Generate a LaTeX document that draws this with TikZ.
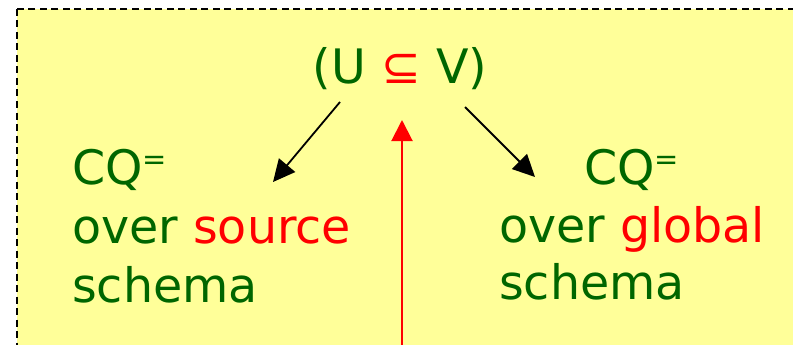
\documentclass[tikz,border=0pt]{standalone}
\usepackage{fontspec}
\setmainfont{DejaVu Sans}
\usetikzlibrary{arrows.meta}
\definecolor{darkgreen}{RGB}{0,102,0}
\definecolor{pureRed}{RGB}{255,0,0}
\definecolor{paleyellow}{RGB}{255,255,153}
\newcommand{\eqsup}{\raisebox{15pt}{\fontsize{29}{29}\selectfont =}}

\begin{document}
\begin{tikzpicture}[x=1pt, y=-1pt,
    every node/.style={inner sep=0pt, text=darkgreen, font=\fontsize{47.5}{57}\selectfont},
    textline/.style={anchor=base west},
    pointer/.style={line width=1.8pt, -{Triangle[length=22pt,width=21pt]}},
    redpointer/.style={line width=2pt, draw=pureRed, -{Triangle[length=21pt,width=21pt]}, color=pureRed}]
    \useasboundingbox (0,0) rectangle (793,345);
    \clip (0,0) rectangle (793,345);
    % Background
    \draw[fill=paleyellow, line width=1.8pt, dash pattern=on 7pt off 4.5pt] (17,9) rectangle (860,400);

    % Inclusion
    \node[anchor=base] (incl) at (400,84) {(U \textcolor{pureRed}{⊆} V)};

    % Left block
    \node[textline] (src1) at (72,184) {CQ\eqsup};
    \node[textline] (src2) at (72,243) {over \textcolor{pureRed}{source}};
    \node[textline] (src3) at (72,302) {schema};

    % Right block
    \node[textline] (glb1) at (584,184) {CQ\eqsup};
    \node[textline] (glb2) at (499,242) {over \textcolor{pureRed}{global}};
    \node[textline] (glb3) at (499,299) {schema};

    % Arrows
    \coordinate (inclL) at (340,102);
    \coordinate (inclR) at (465,107);
    \coordinate (srcTip) at (273,182);
    \coordinate (glbTip) at (535,177);
    \coordinate (inclM) at (402,120);
    \coordinate (below) at (402,360);
    \draw[pointer] (inclL) -- (srcTip);
    \draw[pointer] (inclR) -- (glbTip);
    \draw[redpointer] (below) -- (inclM);
\end{tikzpicture}
\end{document}
